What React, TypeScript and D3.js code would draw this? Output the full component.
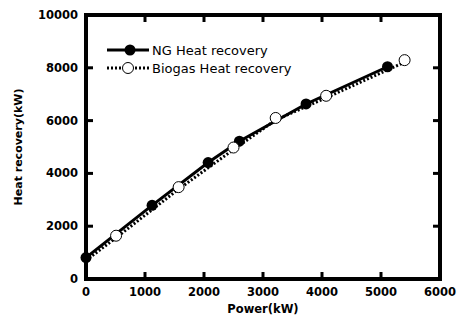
import React from "react";
import * as d3 from "d3";

const ngPower = [0, 1120, 2070, 2600, 3730, 5110];
const ngHeat = [810, 2790, 4410, 5220, 6630, 8040];
const bioPower = [0, 510, 1570, 2500, 3215, 4070, 5400];
const bioHeat = [780, 1640, 3480, 4980, 6100, 6940, 8290];
const xTicks = [0, 1000, 2000, 3000, 4000, 5000, 6000];
const yTicks = [0, 2000, 4000, 6000, 8000, 10000];
const seriesNames = ["NG Heat recovery", "Biogas Heat recovery"];

export default function App() {
  const W = 460, H = 320;
  const L = 86, R = 440, T = 15, B = 279;
  const x = d3.scaleLinear().domain([0, 6000]).range([L, R]);
  const y = d3.scaleLinear().domain([0, 10000]).range([B, T]);
  const line = d3.line<[number, number]>().x(d => x(d[0])).y(d => y(d[1]));
  const ng = ngPower.map((p, i) => [p, ngHeat[i]] as [number, number]);
  const bio = bioPower.map((p, i) => [p, bioHeat[i]] as [number, number]);
  const font = "DejaVu Sans, Arial, sans-serif";
  return (
    <svg width={W} height={H} style={{ position: "absolute", left: 0, top: 0, background: "#fff" }} fontFamily={font}>
      <rect x={0} y={0} width={W} height={H} fill="#fff" />
      <path d={line(bio) || ""} fill="none" stroke="#000" strokeWidth={3} strokeDasharray="2,2" transform="translate(0,2)" />
      <path d={line(ng) || ""} fill="none" stroke="#000" strokeWidth={3} />
      {ng.map((d, i) => (
        <circle key={"n" + i} cx={x(d[0])} cy={y(d[1])} r={5.5} fill="#000" />
      ))}
      {bio.slice(1).map((d, i) => (
        <circle key={"b" + i} cx={x(d[0])} cy={y(d[1])} r={5.5} fill="#fff" stroke="#000" strokeWidth={1} />
      ))}
      <rect x={L} y={T} width={R - L} height={B - T} fill="none" stroke="#000" strokeWidth={4} />
      {xTicks.map(t => (
        <g key={"x" + t}>
          {t > 0 && t < 6000 && <line x1={x(t)} x2={x(t)} y1={B} y2={B - 7} stroke="#000" strokeWidth={3} />}
          {t > 0 && t < 6000 && <line x1={x(t)} x2={x(t)} y1={T} y2={T + 7} stroke="#000" strokeWidth={3} />}
          <text x={x(t)} y={B + 17} textAnchor="middle" fontSize={11.5} fontWeight="bold">{t}</text>
        </g>
      ))}
      {yTicks.map(t => (
        <g key={"y" + t}>
          {t > 0 && t < 10000 && <line x1={L} x2={L + 7} y1={y(t)} y2={y(t)} stroke="#000" strokeWidth={3} />}
          {t > 0 && t < 10000 && <line x1={R} x2={R - 7} y1={y(t)} y2={y(t)} stroke="#000" strokeWidth={3} />}
          <text x={L - 8} y={y(t) + 4} textAnchor="end" fontSize={11.5} fontWeight="bold">{t}</text>
        </g>
      ))}
      <text x={(L + R) / 2} y={313} textAnchor="middle" fontSize={11.5} fontWeight="bold">Power(kW)</text>
      <text transform={`translate(22,${(T + B) / 2}) rotate(-90)`} textAnchor="middle" fontSize={11} fontWeight="bold">Heat recovery(kW)</text>
      <line x1={107} x2={149} y1={50} y2={50} stroke="#000" strokeWidth={3} />
      <circle cx={130} cy={50} r={5.5} fill="#000" />
      <text x={152} y={54.5} fontSize={13}>{seriesNames[0]}</text>
      <line x1={107} x2={149} y1={68} y2={68} stroke="#000" strokeWidth={3} strokeDasharray="2,2" />
      <circle cx={128} cy={68} r={5.5} fill="#fff" stroke="#000" strokeWidth={1} />
      <text x={152} y={72.5} fontSize={13}>{seriesNames[1]}</text>
    </svg>
  );
}
